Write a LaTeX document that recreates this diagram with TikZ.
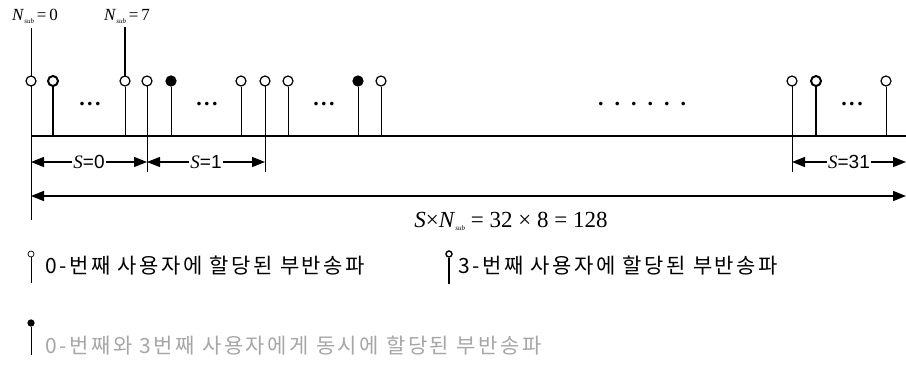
\documentclass[tikz,border=0pt]{standalone}
\usepackage{fontspec}
\setmainfont{Liberation Serif}
\setsansfont{Liberation Sans}
\newfontfamily\kofont[LetterSpace=12]{Noto Sans CJK KR}
\usetikzlibrary{arrows.meta,positioning}

\newcommand{\nsub}{\textit{N}\raisebox{-3pt}{\fontsize{7}{7}\selectfont\textit{sub}}}
\newcommand{\tripledot}{.\hspace{2.5pt}.\hspace{2.5pt}.}
\newcommand{\sparsedots}{.\hspace{11pt}.\hspace{11pt}.\hspace{11pt}.\hspace{11pt}.\hspace{11pt}.}

\begin{document}
\begin{tikzpicture}[x=1pt, y=-1pt, >={Triangle[length=13pt,width=10pt]}, line width=0.8pt,
    sub/.style={draw, circle, inner sep=0pt, minimum size=10pt, fill=white, line width=1.2pt},
    subthree/.style={sub, line width=2pt},
    subboth/.style={sub, fill=black},
    stemthree/.style={line width=1.8pt},
    dots/.style={font=\bfseries\fontsize{22}{22}\selectfont, inner sep=0pt},
    dimlbl/.style={fill=white, inner sep=1pt, font=\sffamily\fontsize{19}{19}\selectfont},
    toplbl/.style={font=\fontsize{17}{17}\selectfont, inner sep=0pt},
    legtxt/.style={anchor=west, font=\kofont\fontsize{21}{21}\selectfont, inner sep=0pt}]
    \useasboundingbox (0,0) rectangle (906,370);
    % extension lines and baseline
    \coordinate (axl) at (31,136);
    \coordinate (axr) at (906,136);
    \node[toplbl] (nlo) at (35,16) {\nsub\,=\,0};
    \node[toplbl] (nhi) at (127,16) {\nsub\,=\,7};
    \coordinate (xl) at (31,220);
    \coordinate (x1) at (147,172);
    \coordinate (x2) at (265,172);
    \coordinate (x31) at (792,172);
    \draw (xl) -- (31,28);
    \draw[line width=1.2pt] (125,81) -- (125,27);
    \draw (147,81) -- (x1);
    \draw (265,81) -- (x2);
    \draw (792,81) -- (x31);
    \draw[line width=1.6pt] (axl) -- (axr);
    % subcarriers of user 0
    \foreach \x [count=\i] in {31,125,147,241,265,288,381,792,886} {
        \node[sub] (o\i) at (\x,81) {};
        \draw (o\i.south) -- (o\i.south |- axl);
    }
    % subcarriers of user 3
    \foreach \x [count=\i] in {53,816} {
        \node[subthree] (t\i) at (\x,81) {};
        \draw[stemthree] (t\i.south) -- (t\i.south |- axl);
    }
    % subcarriers of both users
    \foreach \x [count=\i] in {171,358} {
        \node[subboth] (b\i) at (\x,81) {};
        \draw (b\i.south) -- (b\i.south |- axl);
    }
    \node[dots] (d1) at (90,104) {\tripledot};
    \node[dots] (d2) at (207,104) {\tripledot};
    \node[dots] (d3) at (324,104) {\tripledot};
    \node[dots] (d4) at (642,104) {\sparsedots};
    \node[dots] (d5) at (852,104) {\tripledot};
    % dimension arrows
    \coordinate (s0) at (31,162);
    \coordinate (s1) at (147,162);
    \coordinate (s2) at (265,162);
    \coordinate (s31) at (792,162);
    \coordinate (s32) at (906,162);
    \draw[<->, line width=1.2pt] (s0) -- (s1) node[midway, dimlbl] {\textit{\rmfamily S}=0};
    \draw[<->, line width=1.2pt] (s1) -- (s2) node[midway, dimlbl] {\textit{\rmfamily S}=1};
    \draw[<->, line width=1.2pt] (s31) -- (s32) node[midway, dimlbl] {\textit{\rmfamily S}=31};
    \coordinate (tl) at (31,196);
    \coordinate (tr) at (906,196);
    \draw[<->, line width=1.6pt] (tl) -- (tr);
    \node[font=\fontsize{23}{23}\selectfont] (total) at (511,221) {\textit{S}×\nsub\ = 32 × 8 = 128};
    % legend
    \node[sub, minimum size=6pt, line width=0.7pt] (lo) at (31,254) {};
    \draw (lo.south) -- ++(0,26);
    \node[legtxt] (lot) at (45,266) {0-번째 사용자에 할당된 부반송파};
    \node[subthree, minimum size=6pt, line width=1.4pt] (lt) at (449,254) {};
    \draw[stemthree] (lt.south) -- ++(0,26);
    \node[legtxt] (ltt) at (458,266) {3-번째 사용자에 할당된 부반송파};
    \node[subboth, minimum size=6pt] (lb) at (31,323) {};
    \draw (lb.south) -- ++(0,28);
    \node[legtxt, text=gray!70] (lbt) at (45,346) {0-번째와 3번째 사용자에게 동시에 할당된 부반송파};
\end{tikzpicture}
\end{document}
